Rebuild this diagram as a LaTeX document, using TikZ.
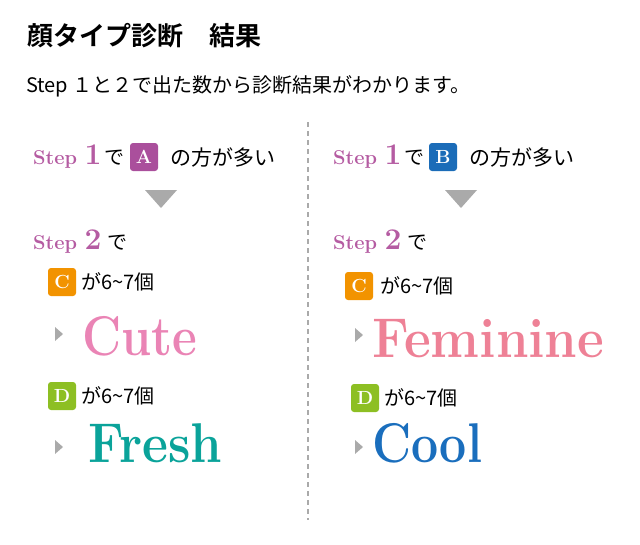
\documentclass[tikz,border=0pt]{standalone}
\usepackage{fontspec}
\newfontfamily\jp{Noto Sans CJK JP}[BoldFont={Noto Sans CJK JP Bold}]
\usetikzlibrary{calc,positioning}
\definecolor{StepPurple}{HTML}{B55CA2}
\definecolor{BoxA}{HTML}{AA4F9C}
\definecolor{BoxB}{HTML}{1B6CB8}
\definecolor{BoxC}{HTML}{F29300}
\definecolor{BoxD}{HTML}{8DBF23}
\definecolor{WordCute}{HTML}{EA84B5}
\definecolor{WordFeminine}{HTML}{EE8196}
\definecolor{WordFresh}{HTML}{0AA39A}
\definecolor{WordCool}{HTML}{1A6EBD}
\definecolor{MarkGray}{HTML}{AAAAAA}
\newcommand{\stepnum}[1]{{\fontsize{30}{30}\selectfont #1}}

\begin{document}
\begin{tikzpicture}[
    x=1pt, y=-1pt,
    jptext/.style={font=\jp\fontsize{#1}{#1}\selectfont, anchor=base west, inner sep=0pt},
    steptext/.style={font=\bfseries\fontsize{20}{20}\selectfont, text=StepPurple, anchor=base west, inner sep=0pt},
    letterbox/.style={fill=#1, rounded corners=3pt, minimum size=28pt, inner sep=0pt, text=white, font=\bfseries\fontsize{19}{19}\selectfont},
    word/.style={font=\bfseries\fontsize{56}{56}\selectfont, text=#1, anchor=base west, inner sep=0pt}
 ]
\useasboundingbox (0,0) rectangle (640,544);
\def\xL{33}
\def\xR{333}
\def\triW{16}
\def\wsc{0.86}

% title
\node[jptext=26, font=\jp\bfseries\fontsize{26}{26}\selectfont] (title) at (27,45) {顔タイプ診断　結果};
\node[jptext=20] (lead) at (26,92) {Step １と２で出た数から診断結果がわかります。};

% divider
\draw[MarkGray, line width=1.6pt, dash pattern=on 5pt off 4pt] (308,122) -- (308,520);

% left column
\node[steptext] (stepOneL) at (\xL,164) {Step \stepnum{1}};
\node[jptext=20, right=2pt of stepOneL.base east, anchor=base west] (deOneL) {で};
\node[letterbox=BoxA] (boxA) at (144,157) {A};
\node[jptext=21] (manyL) at (170,165) {の方が多い};
\fill[MarkGray] (161-\triW,190) -- (161+\triW,190) -- (161,208) -- cycle;
\node[steptext] (stepTwoL) at (\xL,249) {Step \stepnum{2}};
\node[jptext=20, right=5pt of stepTwoL.base east, anchor=base west] (deTwoL) {で};
\node[letterbox=BoxC] (boxCL) at (62,282) {C};
\node[jptext=20] (countCL) at (81,289) {が6\textasciitilde7個};
\fill[MarkGray] (55,327) -- (63,334) -- (55,341) -- cycle;
\node[word=WordCute] (cute) at (82,355) {\scalebox{\wsc}[1]{Cute}};
\node[letterbox=BoxD] (boxDL) at (62,396) {D};
\node[jptext=20] (countDL) at (81,403) {が6\textasciitilde7個};
\fill[MarkGray] (55,440) -- (63,447) -- (55,454) -- cycle;
\node[word=WordFresh] (fresh) at (88,462) {\scalebox{0.9}[1]{Fresh}};

% right column
\node[steptext] (stepOneR) at (\xR,164) {Step \stepnum{1}};
\node[jptext=20, right=2pt of stepOneR.base east, anchor=base west] (deOneR) {で};
\node[letterbox=BoxB] (boxB) at (443,157) {B};
\node[jptext=21] (manyR) at (469,165) {の方が多い};
\fill[MarkGray] (461-\triW,190) -- (461+\triW,190) -- (461,208) -- cycle;
\node[steptext] (stepTwoR) at (\xR,249) {Step \stepnum{2}};
\node[jptext=20, right=5pt of stepTwoR.base east, anchor=base west] (deTwoR) {で};
\node[letterbox=BoxC] (boxCR) at (359,286) {C};
\node[jptext=20] (countCR) at (380,293) {が6\textasciitilde7個};
\fill[MarkGray] (355,328) -- (363,335) -- (355,342) -- cycle;
\node[word=WordFeminine] (feminine) at (372,357) {\scalebox{0.93}[1]{Feminine}};
\node[letterbox=BoxD] (boxDR) at (365,398) {D};
\node[jptext=20] (countDR) at (384,405) {が6\textasciitilde7個};
\fill[MarkGray] (355,440) -- (363,447) -- (355,454) -- cycle;
\node[word=WordCool] (cool) at (372,462) {\scalebox{\wsc}[1]{Cool}};

\end{tikzpicture}
\end{document}
